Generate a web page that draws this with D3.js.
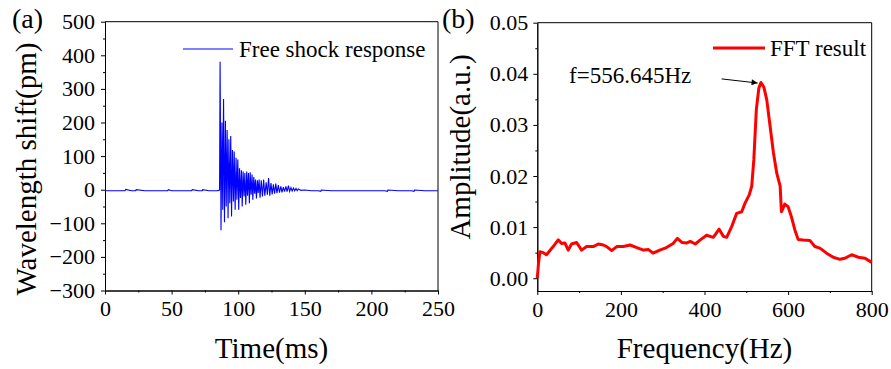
<!DOCTYPE html>
<html><head><meta charset="utf-8">
<script src="https://cdn.jsdelivr.net/npm/d3@7"></script>
<style>body{margin:0;background:#fff}svg{display:block}</style>
</head><body>
<svg id="c" width="891" height="369"></svg>
<script>
// ---------- DATA ----------
// Panel (a): free shock response, [time ms, wavelength shift pm]
const shockTime = [0,5,10,15,15.5,20,23,23.4,30,35,40,47,47.5,50,55,60,65,65.5,70,73,73.3,78,82,84,85.5,
 86.0,86.4,87.1,87.8,88.4,89.0,89.7,90.4,91.0,91.7,
 92.4,93.0,93.7,94.4,95.0,95.7,96.4,97.0,97.7,98.4,
 99.0,99.7,100.4,101.0,101.7,102.4,103.0,103.7,104.4,105.0,
 105.7,106.4,107.0,107.7,108.4,109.0,109.7,110.4,111.0,111.7,
 112.4,113.0,113.7,114.4,115.0,115.7,116.4,117.3,118.2,119.1,
 120.0,121.0,121.9,122.8,123.7,124.6,125.5,126.4,127.3,128.2,
 129.1,130.1,131.0,132.0,132.9,133.9,134.8,135.8,136.7,137.7,
 138.6,139.6,140.5,141.5,142.4,143.4,144.3,145.3,147,150,
 155,160,162,162.4,170,175,180,185,190,200,205,210,212,212.4,220,225,230,232,232.4,240,245,250];
const shockValue = [-3,-3,-3,-3,1,-3,-3,0,-3,-3,-3,-3,0,-3,-3,-3,-3,0,-3,-3,0,-3,-3,-3,-2,
 0,381,-121,200,-60,270,-97,205,-50,178,
 -85,150,-40,160,-80,118,-35,114,-60,95,
 -30,90,-60,64,-25,58,-50,54,-20,50,
 -45,54,-18,50,-40,52,-15,45,-30,38,
 -12,30,-26,28,-10,30,-24,28,-20,30,
 -18,22,-15,35,-18,20,-14,16,-12,18,
 -10,14,-9,10,-8,8,-6,10,-6,12,
 -5,6,-4,5,-3,4,-3,2,-2,-1,
 -3,-3,-5,-1,-3,-3,-3,-3,-3,-3,-3,-3,-5,-1,-3,-3,-3,-5,-1,-3,-3,-3];
// Panel (b): FFT result, [frequency Hz, amplitude a.u.]
const fftFreq = [0,3,6.4,14,22,38,50,58,66,74,82,94,106,118,134,146,158,166,178,190,206,222,238,254,266,277,293,309,325,335,346,358,366,378,390,405,421,435,445,453,465,477,489,497,507,513,518,524,530,535,542,549,557,565,573,581,584,588,592,600,608,616,624,636,652,664,676,692,708,724,736,752,768,784,800];
const fftAmp = [0,0.0030,0.0052,0.0050,0.0046,0.0062,0.0075,0.0068,0.0069,0.0055,0.0067,0.0070,0.0055,0.0062,0.0062,0.0067,0.0065,0.0062,0.0054,0.0062,0.0062,0.0065,0.0060,0.0055,0.0056,0.0049,0.0055,0.0060,0.0068,0.0078,0.0070,0.0069,0.0072,0.0067,0.0075,0.0084,0.0080,0.0096,0.0082,0.0080,0.0101,0.0127,0.0130,0.0147,0.0163,0.0180,0.0232,0.0330,0.0372,0.0383,0.0374,0.0349,0.0297,0.0245,0.0205,0.0180,0.0130,0.0137,0.0145,0.0140,0.0120,0.0095,0.0076,0.0075,0.0074,0.0062,0.0059,0.0049,0.0041,0.0037,0.0039,0.0046,0.0041,0.0039,0.0031];
const ticksA_x = [0,50,100,150,200,250];
const ticksA_y = [-300,-200,-100,0,100,200,300,400,500];
const ticksB_x = [0,200,400,600,800];
const ticksB_y = [0,0.01,0.02,0.03,0.04,0.05];
const peakAnnot = "f=556.645Hz";

// ---------- DRAW ----------
const SERIF = "'Liberation Serif', 'Times New Roman', Times, 'DejaVu Serif', serif";
const svg = d3.select("#c");
const FONT = 22;
const TITLE = 29;
const LEG = 23;

function txt(sel, size){ return sel.style("font-family",SERIF).style("font-size",size+"px").attr("fill","#000"); }

function panel(o){
  const g = svg.append("g");
  const x = d3.scaleLinear().domain(o.xd).range([o.l,o.r]);
  const y = d3.scaleLinear().domain(o.yd).range([o.b,o.t]);
  g.append("g").attr("transform",`translate(0,${o.b})`)
    .call(d3.axisBottom(x).tickValues(o.xminor).tickSize(2).tickFormat("").tickSizeOuter(0));
  g.append("g").attr("transform",`translate(${o.l},0)`)
    .call(d3.axisLeft(y).tickValues(o.yminor).tickSize(2).tickFormat("").tickSizeOuter(0));
  g.append("g").attr("transform",`translate(0,${o.b})`)
    .call(d3.axisBottom(x).tickValues(o.xt).tickSize(4).tickPadding(6).tickSizeOuter(0).tickFormat(o.xf));
  g.append("g").attr("transform",`translate(${o.l},0)`)
    .call(d3.axisLeft(y).tickValues(o.yt).tickSize(4).tickPadding(o.ypad).tickSizeOuter(0).tickFormat(o.yf));
  txt(g.selectAll(".tick text"), FONT);
  g.selectAll(".domain, .tick line").attr("stroke","#000").attr("stroke-width",1);
  g.append("line").attr("x1",o.l).attr("x2",o.r).attr("y1",o.t).attr("y2",o.t).attr("stroke","#000");
  g.append("line").attr("x1",o.r).attr("x2",o.r).attr("y1",o.t).attr("y2",o.b).attr("stroke","#000");
  return {g,x,y};
}

// Panel (a)
const A = panel({l:105,r:438,t:21.7,b:290.5,xd:[0,250],yd:[-300,500],
  xt:ticksA_x,yt:ticksA_y,xminor:[25,75,125,175,225],yminor:[-250,-150,-50,50,150,250,350,450],
  xf:d3.format("d"),yf:d3.format("d"),ypad:6});
const shock = shockTime.map((t,i)=>[t,shockValue[i]]);
A.g.append("path").datum(shock)
  .attr("d",d3.line().x(d=>A.x(d[0])).y(d=>A.y(d[1])))
  .attr("fill","none").attr("stroke","#0000ff").attr("stroke-width",1.1);
A.g.append("line").attr("x1",183).attr("x2",233).attr("y1",49).attr("y2",49).attr("stroke","#0000ff").attr("stroke-width",1.2);
txt(A.g.append("text").attr("x",239).attr("y",57),LEG).text("Free shock response");
txt(svg.append("text").attr("x",12).attr("y",28),28).text("(a)");
txt(svg.append("text").attr("transform","translate(36,169) rotate(-90)").attr("text-anchor","middle"),TITLE)
  .text("Wavelength shift(pm)");
txt(svg.append("text").attr("x",271.5).attr("y",358).attr("text-anchor","middle"),TITLE).text("Time(ms)");

// Panel (b)
const B = panel({l:537.3,r:871.7,t:22.7,b:291,xd:[0,800],yd:[-0.0025,0.05],
  xt:ticksB_x,yt:ticksB_y,xminor:[100,300,500,700],yminor:[0.005,0.015,0.025,0.035,0.045],
  xf:d3.format("d"),yf:d3.format(".2f"),ypad:5});
const fft = fftFreq.map((f,i)=>[f,fftAmp[i]]);
B.g.append("path").datum(fft)
  .attr("d",d3.line().x(d=>B.x(d[0])).y(d=>B.y(d[1])))
  .attr("fill","none").attr("stroke","#ff0000").attr("stroke-width",3).attr("stroke-linejoin","round");
B.g.append("line").attr("x1",713).attr("x2",765).attr("y1",48).attr("y2",48).attr("stroke","#ff0000").attr("stroke-width",3);
txt(B.g.append("text").attr("x",770).attr("y",56),LEG).text("FFT result");
const pk = fft.reduce((a,b)=>b[1]>a[1]?b:a);
txt(B.g.append("text").attr("x",B.x(76)).attr("y",B.y(0.0382)),LEG).text(peakAnnot);
svg.append("defs").append("marker").attr("id","ah").attr("viewBox","0 0 10 10").attr("refX",10).attr("refY",5)
  .attr("markerWidth",9).attr("markerHeight",6).attr("markerUnits","userSpaceOnUse").attr("orient","auto")
  .append("path").attr("d","M0,0L10,5L0,10Z").attr("fill","#000");
B.g.append("line").attr("x1",B.x(441)).attr("y1",B.y(0.039)).attr("x2",B.x(pk[0]-8)).attr("y2",B.y(pk[1]-0.0001))
  .attr("stroke","#000").attr("stroke-width",1).attr("marker-end","url(#ah)");
txt(svg.append("text").attr("x",442).attr("y",28),28).text("(b)");
txt(svg.append("text").attr("transform","translate(470,147) rotate(-90)").attr("text-anchor","middle"),TITLE)
  .text("Amplitude(a.u.)");
txt(svg.append("text").attr("x",704.5).attr("y",358).attr("text-anchor","middle"),TITLE).text("Frequency(Hz)");
</script>
</body></html>
